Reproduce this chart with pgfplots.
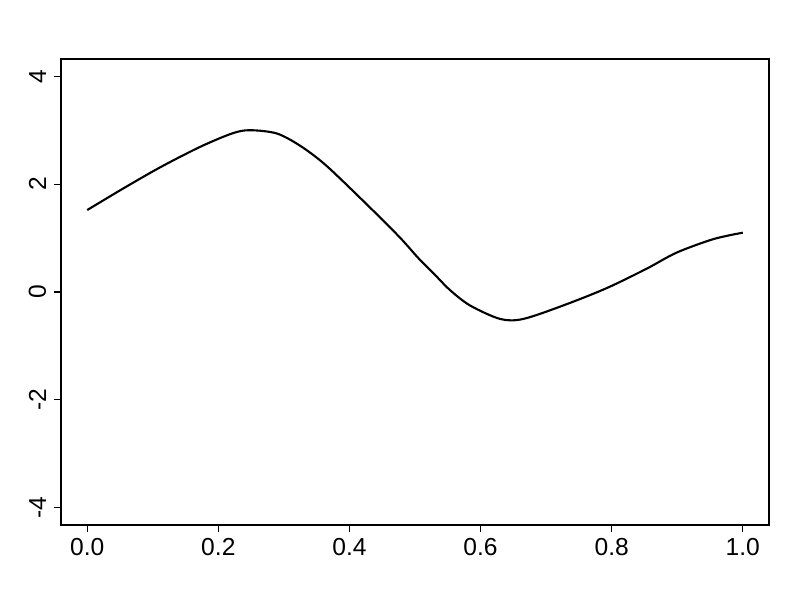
\documentclass[border=0pt]{standalone}
\usepackage{fontspec}
\setmainfont{Liberation Sans}
\usepackage{pgfplots}
\pgfplotsset{compat=1.18}

\begin{document}
\begin{tikzpicture}
% page frame: 800 x 600 px, 1 px = 0.02 cm
\path (0,0) rectangle (16cm,12cm);
\begin{axis}[
    at={(1.22cm,1.5cm)}, anchor=south west,
    scale only axis, width=14.16cm, height=9.32cm,
    xmin=-0.04, xmax=1.04, ymin=-4.32, ymax=4.32,
    xtick={0,0.2,...,1.0}, ytick={-4,-2,0,2,4},
    xticklabels={0.0,0.2,0.4,0.6,0.8,1.0},
    tick align=outside, major tick length=4pt,
    xtick pos=bottom, ytick pos=left,
    axis line style={line width=0.6pt},
    every tick/.style={black, line width=0.6pt},
    /pgf/number format/assume math mode=true,
    ticklabel style={font=\fontsize{14}{16}\selectfont},
    yticklabel style={rotate=90, anchor=south, yshift=1pt},
    xticklabel style={yshift=0pt},
]
\addplot[black, line width=1.2pt, smooth, tension=0.5] coordinates {
(0.000,1.52) (0.055,1.92) (0.111,2.31) (0.172,2.69) (0.221,2.94)
(0.248,3.00) (0.289,2.94) (0.325,2.71) (0.365,2.34) (0.431,1.57)
(0.477,1.01) (0.505,0.63) (0.528,0.35) (0.553,0.04) (0.584,-0.25)
(0.630,-0.50) (0.665,-0.50) (0.726,-0.25) (0.792,0.07) (0.853,0.43)
(0.899,0.73) (0.955,0.98) (1.000,1.10)
};
\end{axis}
\end{tikzpicture}
\end{document}
